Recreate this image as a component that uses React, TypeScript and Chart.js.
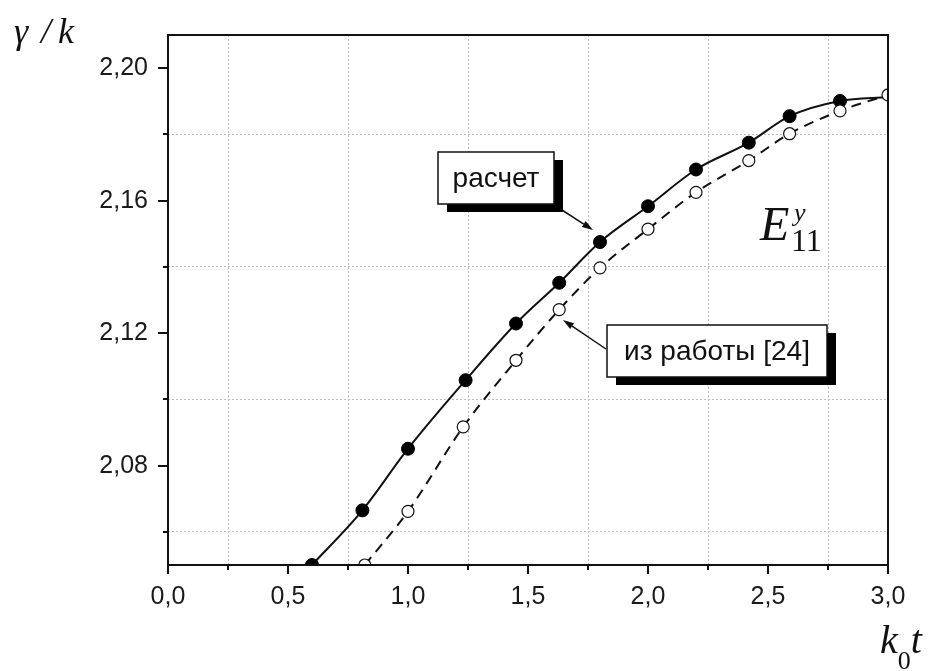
import React, { useEffect, useRef } from "react";
import { Chart, registerables } from "chart.js";

Chart.register(...registerables);

// "расчет" (calculated) series – filled markers; last entry only completes the curve
const calcX = [0.6, 0.81, 1.0, 1.24, 1.45, 1.63, 1.8, 2.0, 2.2, 2.42, 2.59, 2.8, 3.0];
const calcY = [2.05, 2.0665, 2.0851, 2.1058, 2.1229, 2.1352, 2.1475, 2.1583, 2.1694, 2.1775, 2.1855, 2.1901, 2.1913];
const calcMarker = [1, 1, 1, 1, 1, 1, 1, 1, 1, 1, 1, 1, 0];

// "из работы [24]" (reference) series – open markers
const refX = [0.82, 1.0, 1.23, 1.45, 1.63, 1.8, 2.0, 2.2, 2.42, 2.59, 2.8, 3.0];
const refY = [2.05, 2.0662, 2.0917, 2.1118, 2.1271, 2.1397, 2.1514, 2.1625, 2.1721, 2.1802, 2.1871, 2.1919];

// ticks (empty label = minor tick)
const xTickValues = [0, 0.25, 0.5, 0.75, 1.0, 1.25, 1.5, 1.75, 2.0, 2.25, 2.5, 2.75, 3.0];
const xTickLabels = ["0,0", "", "0,5", "", "1,0", "", "1,5", "", "2,0", "", "2,5", "", "3,0"];
const yTickValues = [2.06, 2.08, 2.1, 2.12, 2.14, 2.16, 2.18, 2.2];
const yTickLabels = ["", "2,08", "", "2,12", "", "2,16", "", "2,20"];

const X_MIN = 0;
const X_MAX = 3;
const Y_MIN = 2.05;
const Y_MAX = 2.21;

const SANS = 'Arial, "Liberation Sans", sans-serif';
const SERIF = '"Liberation Serif", "Times New Roman", serif';

function arrow(ctx: CanvasRenderingContext2D, x1: number, y1: number, x2: number, y2: number) {
  ctx.save();
  ctx.strokeStyle = "#111";
  ctx.fillStyle = "#111";
  ctx.lineWidth = 1.5;
  const ang = Math.atan2(y2 - y1, x2 - x1);
  const hl = 11;
  const hw = 3.5;
  const bx = x2 - hl * Math.cos(ang);
  const by = y2 - hl * Math.sin(ang);
  ctx.beginPath();
  ctx.moveTo(x1, y1);
  ctx.lineTo(bx, by);
  ctx.stroke();
  ctx.beginPath();
  ctx.moveTo(x2, y2);
  ctx.lineTo(bx + hw * Math.sin(ang), by - hw * Math.cos(ang));
  ctx.lineTo(bx - hw * Math.sin(ang), by + hw * Math.cos(ang));
  ctx.closePath();
  ctx.fill();
  ctx.restore();
}

function labelBox(ctx: CanvasRenderingContext2D, x: number, y: number, w: number, h: number, text: string) {
  ctx.save();
  ctx.fillStyle = "#000";
  ctx.fillRect(x + 9, y + 8, w, h);
  ctx.fillStyle = "#fff";
  ctx.fillRect(x, y, w, h);
  ctx.strokeStyle = "#111";
  ctx.lineWidth = 1.5;
  ctx.strokeRect(x, y, w, h);
  ctx.fillStyle = "#111";
  ctx.font = `28px ${SANS}`;
  ctx.textAlign = "center";
  ctx.textBaseline = "middle";
  ctx.fillText(text, x + w / 2, y + h / 2 + 1);
  ctx.restore();
}

const decorPlugin = {
  id: "decor",
  afterDatasetsDraw(chart: any) {
    const { ctx, chartArea: a, scales } = chart;
    const xs = scales.x;
    const ys = scales.y;
    ctx.save();
    // frame
    ctx.strokeStyle = "#111";
    ctx.lineWidth = 2;
    ctx.strokeRect(a.left, a.top, a.right - a.left, a.bottom - a.top);
    // ticks (outward)
    ctx.beginPath();
    xTickValues.forEach((v, i) => {
      const px = Math.round(xs.getPixelForValue(v));
      const len = xTickLabels[i] ? 9 : 5;
      ctx.moveTo(px, a.bottom);
      ctx.lineTo(px, a.bottom + len);
    });
    yTickValues.forEach((v, i) => {
      const py = Math.round(ys.getPixelForValue(v));
      const len = yTickLabels[i] ? 10 : 5;
      ctx.moveTo(a.left, py);
      ctx.lineTo(a.left - len, py);
    });
    ctx.stroke();

    // axis titles
    ctx.fillStyle = "#111";
    ctx.textBaseline = "alphabetic";
    ctx.textAlign = "left";
    ctx.font = `italic 36px ${SERIF}`;
    ctx.fillText("\u03b3", 14, 43);
    ctx.fillText("/", 41, 43);
    ctx.fillText("k", 58, 43);

    // k0t
    let x = 880;
    ctx.font = `italic 40px ${SERIF}`;
    ctx.fillText("k", x, 653);
    x += ctx.measureText("k").width;
    ctx.font = `26px ${SERIF}`;
    ctx.fillText("0", x, 669);
    x += ctx.measureText("0").width;
    ctx.font = `italic 40px ${SERIF}`;
    ctx.fillText("t", x, 653);

    // E^y_11
    ctx.font = `italic 48px ${SERIF}`;
    ctx.fillText("E", 760, 240);
    ctx.font = `italic 26px ${SERIF}`;
    ctx.fillText("y", 794, 221);
    ctx.font = `32px ${SERIF}`;
    ctx.fillText("11", 791, 251);
    ctx.restore();

    // annotations
    arrow(ctx, 562, 210, 593, 230);
    labelBox(ctx, 438, 152, 116, 52, "расчет");
    arrow(ctx, 606, 349, 563, 320);
    labelBox(ctx, 607, 325, 220, 52, "из работы [24]");
  },
};

export default function App() {
  const canvasRef = useRef<HTMLCanvasElement | null>(null);

  useEffect(() => {
    const canvas = canvasRef.current;
    if (!canvas) return;
    const chart = new Chart(canvas, {
      type: "line",
      data: {
        datasets: [
          {
            label: "из работы [24]",
            data: refX.map((x, i) => ({ x, y: refY[i] })),
            borderColor: "#111",
            borderWidth: 2,
            borderDash: [10, 7],
            pointRadius: 6,
            pointBackgroundColor: "#fff",
            pointBorderColor: "#111",
            pointBorderWidth: 1.2,
            cubicInterpolationMode: "monotone",
            order: 0,
          },
          {
            label: "расчет",
            data: calcX.map((x, i) => ({ x, y: calcY[i] })),
            borderColor: "#111",
            borderWidth: 2,
            pointRadius: calcMarker.map((m) => (m ? 6.5 : 0)),
            pointBackgroundColor: "#000",
            pointBorderColor: "#000",
            pointBorderWidth: 1,
            cubicInterpolationMode: "monotone",
            order: 1,
          },
        ],
      },
      options: {
        responsive: false,
        animation: false,
        devicePixelRatio: 1,
        layout: { padding: { top: 33, right: 41, bottom: 0, left: 0 } },
        plugins: {
          legend: { display: false },
          tooltip: { enabled: false },
        },
        scales: {
          x: {
            type: "linear",
            min: X_MIN,
            max: X_MAX,
            afterBuildTicks: (s: any) => {
              s.ticks = xTickValues.map((v) => ({ value: v }));
            },
            afterFit: (s: any) => {
              s.height = 106;
            },
            ticks: {
              autoSkip: false,
              maxRotation: 0,
              padding: 17,
              color: "#1a1a1a",
              font: { family: SANS, size: 25 },
              callback: (_v: any, i: number) => xTickLabels[i],
            },
            grid: {
              drawTicks: false,
              lineWidth: 1,
              color: (c: any) => (xTickLabels[c.index] === "" ? "#bdbdbd" : "rgba(0,0,0,0)"),
            },
            border: { display: false, dash: [2, 2] },
          },
          y: {
            type: "linear",
            min: Y_MIN,
            max: Y_MAX,
            afterBuildTicks: (s: any) => {
              s.ticks = yTickValues.map((v) => ({ value: v }));
            },
            afterFit: (s: any) => {
              s.width = 168;
            },
            ticks: {
              autoSkip: false,
              padding: 20,
              color: "#1a1a1a",
              font: { family: SANS, size: 25 },
              callback: (_v: any, i: number) => yTickLabels[i],
            },
            grid: {
              drawTicks: false,
              lineWidth: 1,
              color: (c: any) => (yTickLabels[c.index] === "" ? "#bdbdbd" : "rgba(0,0,0,0)"),
            },
            border: { display: false, dash: [2, 2] },
          },
        },
      },
      plugins: [decorPlugin],
    });
    return () => chart.destroy();
  }, []);

  return (
    <div style={{ position: "absolute", left: 0, top: 0, width: 929, height: 671, background: "#fff" }}>
      <canvas ref={canvasRef} width={929} height={671} />
    </div>
  );
}
